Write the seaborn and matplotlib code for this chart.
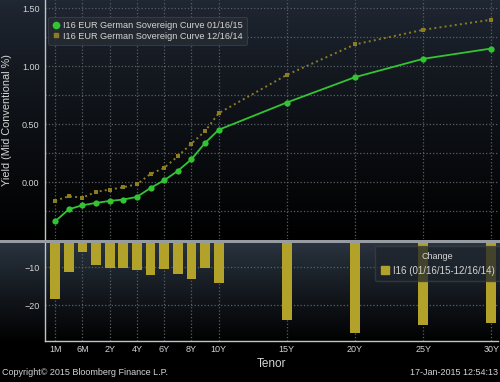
import numpy as np
import pandas as pd
import matplotlib
matplotlib.use("Agg")
import matplotlib.pyplot as plt
from matplotlib.lines import Line2D
from matplotlib.patches import Patch
import seaborn as sns

# Data
tenors = ["1M", "3M", "6M", "1Y", "2Y", "3Y", "4Y", "5Y", "6Y", "7Y", "8Y", "9Y",
          "10Y", "15Y", "20Y", "25Y", "30Y"]
tenor_pos = [-2, -1, 0, 1, 2, 3, 4, 5, 6, 7, 8, 9, 10, 15, 20, 25, 30]
curve_0116 = [-0.336, -0.233, -0.198, -0.178, -0.161, -0.149, -0.126, -0.049, 0.017,
              0.098, 0.198, 0.339, 0.452, 0.687, 0.905, 1.063, 1.152]
curve_1216 = [-0.158, -0.121, -0.132, -0.083, -0.063, -0.043, -0.017, 0.072, 0.124,
              0.224, 0.333, 0.441, 0.595, 0.925, 1.187, 1.313, 1.400]
change_bp = [-18.4, -11.3, -6.0, -9.4, -10.1, -10.1, -10.6, -12.1, -10.4, -11.8,
             -13.0, -10.2, -14.2, -24.0, -27.5, -25.3, -24.9]

tick_labels = ["1M", "6M", "2Y", "4Y", "6Y", "8Y", "10Y", "15Y", "20Y", "25Y", "30Y"]
tick_pos = [-2, 0, 2, 4, 6, 8, 10, 15, 20, 25, 30]

label_1 = "I16 EUR German Sovereign Curve 01/16/15"
label_2 = "I16 EUR German Sovereign Curve 12/16/14"

df = pd.DataFrame({"pos": tenor_pos, "tenor": tenors, "new": curve_0116,
                   "old": curve_1216, "chg": change_bp})

sns.set_style("dark")
plt.rcParams["font.family"] = ["Liberation Sans", "DejaVu Sans"]

GREEN = "#33c433"
OLIVE = "#8c7d22"
BAR = "#b3a22a"
TXT = "#d4d4d4"
GRID = "#5a5f66"
SPINE = "#c0c4c8"

fig = plt.figure(figsize=(5.0, 3.82), dpi=100, facecolor="black")

# dark screen gradient behind both panels
H, W = 382, 500
bg = np.zeros((H, W, 3))
for r in range(H):
    if r < 240:
        t = (r / 240) ** 0.8
        c = np.array([32, 40, 52]) * (1 - t)
    elif r < 243:
        c = np.array([150, 156, 162])
    else:
        t = min((r - 243) / 100, 1) ** 0.9
        c = np.array([42, 52, 64]) * (1 - t)
    bg[r, :, :] = c / 255
fig.figimage(bg, 0, 0, zorder=-10, origin="upper")

ax1 = fig.add_axes([0.09, 0.374, 0.906, 0.626])
ax2 = fig.add_axes([0.09, 0.107, 0.906, 0.257])
for ax in (ax1, ax2):
    ax.set_facecolor("none")
    for s in ["top", "right"]:
        ax.spines[s].set_visible(False)
    for s in ["left", "bottom"]:
        ax.spines[s].set_color(SPINE)
        ax.spines[s].set_linewidth(1.0)
    ax.set_xlim(-2.75, 30.5)
    ax.set_xticks(tick_pos)

# curves
sns.lineplot(data=df, x="pos", y="old", ax=ax1, color=OLIVE, linestyle=":",
             linewidth=1.4, marker="s", markersize=3.5, markeredgewidth=0)
sns.lineplot(data=df, x="pos", y="new", ax=ax1, color=GREEN, linewidth=1.3,
             marker="o", markersize=4.5, markeredgewidth=0)
ax1.set_ylim(-0.49, 1.57)
ax1.set_yticks([0, 0.5, 1.0, 1.5])
ax1.set_yticklabels(["0.00", "0.50", "1.00", "1.50"])
ax1.set_yticks([-0.25, 0.25, 0.75, 1.25], minor=True)
ax1.grid(True, which="both", axis="y", linestyle=":", color=GRID, linewidth=0.9)
ax1.grid(True, which="major", axis="x", linestyle=":", color=GRID, linewidth=0.9)
ax1.tick_params(axis="x", labelbottom=False, length=0)
ax1.tick_params(axis="y", which="major", colors=TXT, labelsize=6.5, length=3,
                width=1, direction="out", pad=1)
ax1.tick_params(axis="y", which="minor", length=0)
ax1.set_xlabel("")
ax1.set_ylabel("Yield (Mid Conventional %)", color=TXT, fontsize=7.8, labelpad=7)
ax1.spines["bottom"].set_visible(False)

handles = [Line2D([], [], color=GREEN, marker="o", linestyle="none", markersize=4.5),
           Line2D([], [], color=OLIVE, marker="s", linestyle="none", markersize=3.5)]
leg = ax1.legend(handles, [label_1, label_2], loc="upper left",
                 bbox_to_anchor=(0.007, 0.93), fontsize=6.6, frameon=True,
                 facecolor="#262b33", edgecolor="#3a3f47", framealpha=0.85,
                 labelcolor=TXT, handletextpad=0.4, handlelength=0.8,
                 borderpad=0.45, labelspacing=0.2, borderaxespad=0)
leg.get_frame().set_linewidth(0.8)

# change bars
sns.barplot(data=df, x="pos", y="chg", ax=ax2, native_scale=True, color=BAR,
            width=0.72, saturation=1, linewidth=0, edgecolor="none", zorder=3)
ax2.set_xlim(-2.75, 30.5)
ax2.set_ylim(-29.6, -3.5)
ax2.set_yticks([-10, -20])
ax2.set_xticks(tick_pos)
ax2.set_xticklabels(tick_labels)
ax2.grid(True, axis="both", linestyle=":", color=GRID, linewidth=0.9)
ax2.tick_params(axis="y", colors=TXT, labelsize=6.5, length=3, width=1, pad=1)
ax2.tick_params(axis="x", colors=TXT, labelsize=6.5, length=0, pad=3)
ax2.set_xlabel("Tenor", color=TXT, fontsize=8.5, labelpad=3)
ax2.set_ylabel("")

leg2 = ax2.legend([Patch(color=BAR)], ["I16 (01/16/15-12/16/14)"], title="Change",
                  loc="upper right", bbox_to_anchor=(1.005, 0.97), fontsize=7,
                  title_fontsize=6.5, frameon=True, facecolor="#1e242c",
                  edgecolor="#3a3f47", framealpha=0.75, labelcolor=TXT,
                  handlelength=0.8, handleheight=0.8, handletextpad=0.4,
                  borderpad=0.6, borderaxespad=0)
leg2.get_title().set_color(TXT)
leg2.set_zorder(5)

fig.text(0.004, 0.014, "Copyright\u00a9 2015 Bloomberg Finance L.P.", color=TXT,
         fontsize=6.5, ha="left", va="bottom")
fig.text(0.996, 0.014, "17-Jan-2015 12:54:13", color=TXT, fontsize=6.5,
         ha="right", va="bottom")

fig.savefig("out.png", dpi=100, facecolor="black")
